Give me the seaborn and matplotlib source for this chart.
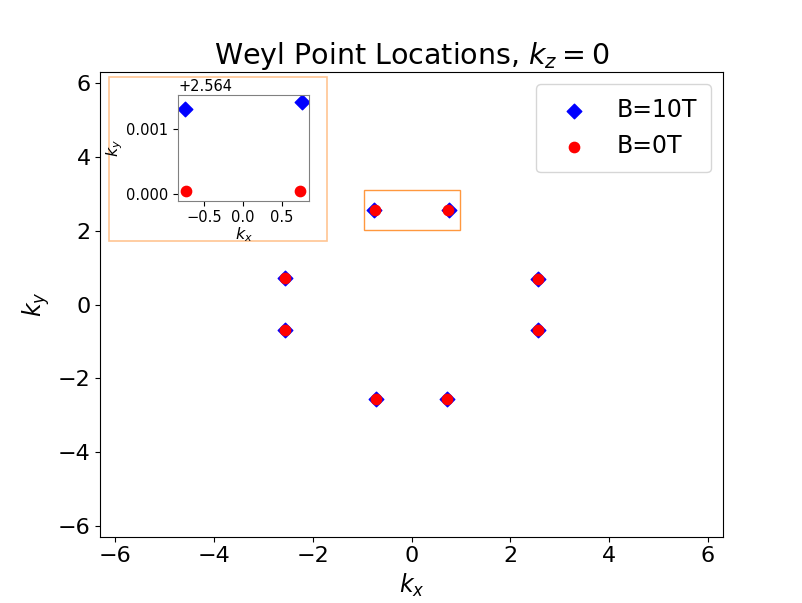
import numpy as np
import pandas as pd
import seaborn as sns
import matplotlib.pyplot as plt
from matplotlib.patches import Rectangle
from matplotlib.ticker import ScalarFormatter

# Weyl point positions
kx_b0 = [-0.74, 0.74, -2.564, -2.564, 2.564, 2.564, -0.72, 0.72]
ky_b0 = [2.56405, 2.56405, 0.72, -0.70, 0.70, -0.68, -2.564, -2.564]
kx_b10 = [-0.75, 0.76, -2.564, -2.564, 2.564, 2.564, -0.72, 0.72]
ky_b10 = [2.56531, 2.56542, 0.72, -0.70, 0.70, -0.68, -2.564, -2.564]

db0 = pd.DataFrame({'kx': kx_b0, 'ky': ky_b0})
db10 = pd.DataFrame({'kx': kx_b10, 'ky': ky_b10})

# zoom window shown on main plot
zoom_x = (-0.97, 0.98)
zoom_y = (2.02, 3.11)

fig, ax = plt.subplots(figsize=(8.03, 6.03), dpi=100)


def draw_points(a, size):
    sns.scatterplot(x='kx', y='ky', data=db10, ax=a, color='blue', marker='D',
                    s=size, linewidth=1, edgecolor='face', label='B=10T')
    sns.scatterplot(x='kx', y='ky', data=db0, ax=a, color='red', marker='o',
                    s=size, linewidth=1, edgecolor='face', label='B=0T')


draw_points(ax, 55)
ax.set_xlim(-6.3, 6.3)
ax.set_ylim(-6.3, 6.3)
ax.set_xticks([-6, -4, -2, 0, 2, 4, 6])
ax.set_yticks([-6, -4, -2, 0, 2, 4, 6])
ax.tick_params(labelsize=16)
ax.set_xlabel('$k_x$', fontsize=17)
ax.set_ylabel('$k_y$', fontsize=17)
ax.set_title('Weyl Point Locations, $k_z=0$', fontsize=20.5)
ax.legend(loc='upper right', fontsize=17, borderpad=0.6, labelspacing=0.5)

ax.add_patch(Rectangle((zoom_x[0], zoom_y[0]), zoom_x[1] - zoom_x[0],
                       zoom_y[1] - zoom_y[0], fill=False, edgecolor='C1',
                       alpha=0.8, lw=1))
ax.add_patch(Rectangle((0.0134, 0.637), 0.3506, 0.352, transform=ax.transAxes,
                       fill=False, edgecolor='C1', alpha=0.45, lw=1.2))

# inset
axins = ax.inset_axes([0.125, 0.724, 0.21, 0.227])
draw_points(axins, 55)
axins.get_legend().remove()
axins.set_xlim(-0.84, 0.85)
axins.set_ylim(2.564 - 0.000105, 2.564 + 0.00153)
axins.set_xticks([-0.5, 0.0, 0.5])
axins.set_yticks([2.564, 2.565])
fmt = ScalarFormatter(useOffset=2.564)
axins.yaxis.set_major_formatter(fmt)
axins.tick_params(labelsize=10.5)
axins.yaxis.get_offset_text().set_fontsize(10.5)
axins.set_xlabel('$k_x$', fontsize=11.5, labelpad=0)
axins.set_ylabel('$k_y$', fontsize=11.5, labelpad=1)
for sp in axins.spines.values():
    sp.set_edgecolor('gray')

plt.savefig('out.png', dpi=100)
